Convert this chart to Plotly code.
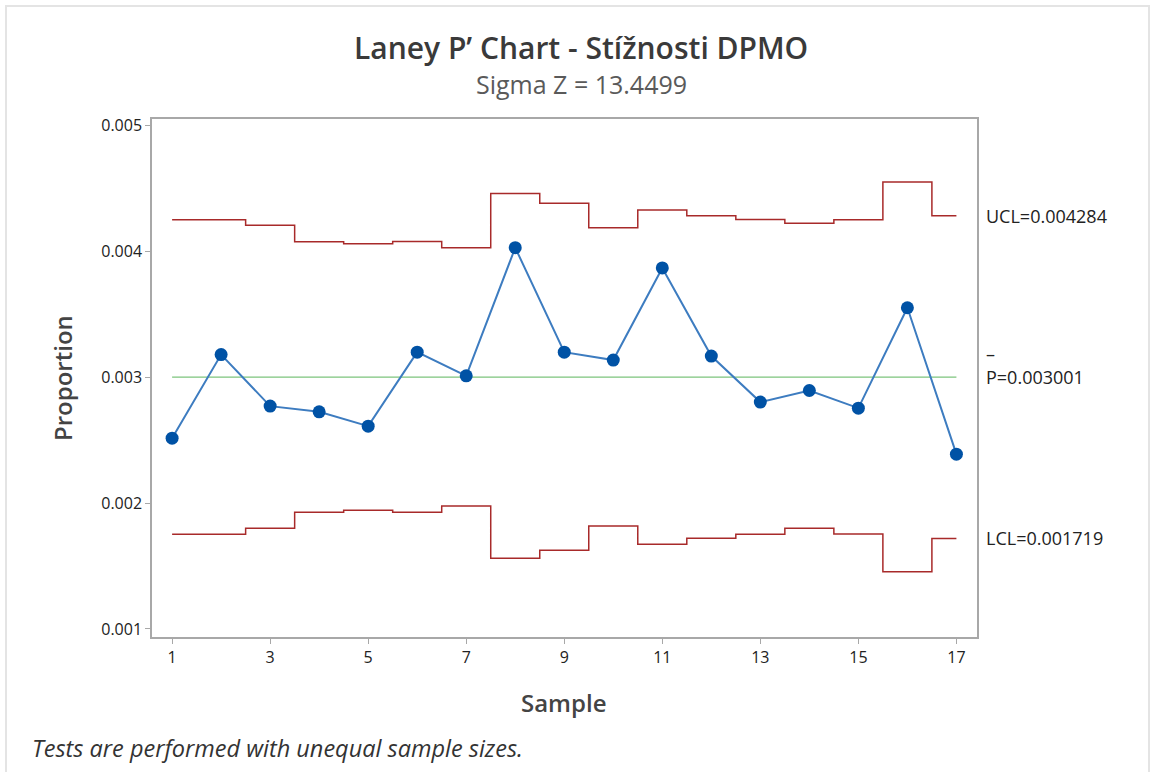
import plotly.graph_objects as go

samples = list(range(1, 18))
proportion = [0.002516, 0.003181, 0.002771, 0.002726, 0.002612, 0.003200, 0.003012, 0.004030,
              0.003200, 0.003137, 0.003869, 0.003169, 0.002803, 0.002895, 0.002755, 0.003553, 0.002389]
ucl = [0.004253, 0.004253, 0.004208, 0.004078, 0.004062, 0.004080, 0.004030, 0.004460,
       0.004383, 0.004189, 0.004330, 0.004285, 0.004255, 0.004224, 0.004253, 0.004553, 0.004284]
lcl = [0.001753, 0.001753, 0.001800, 0.001928, 0.001944, 0.001928, 0.001978, 0.001562,
       0.001625, 0.001819, 0.001673, 0.001721, 0.001753, 0.001800, 0.001755, 0.001455, 0.001719]
center = 0.003001
x_ticks = [1, 3, 5, 7, 9, 11, 13, 15, 17]
y_ticks = [0.001, 0.002, 0.003, 0.004, 0.005]

FONT = "Open Sans"
W, H = 1156, 772
L, R, T, B = 152, 977, 119, 637

def px(xp):
    return (xp - L) / (R - L)

def py(yp):
    return (B - yp) / (B - T)

fig = go.Figure()
red = "#a82a2a"
fig.add_trace(go.Scatter(x=samples, y=ucl, mode="lines", line=dict(color=red, width=1.5, shape="hvh"),
                         hoverinfo="skip", showlegend=False))
fig.add_trace(go.Scatter(x=samples, y=lcl, mode="lines", line=dict(color=red, width=1.5, shape="hvh"),
                         hoverinfo="skip", showlegend=False))
fig.add_trace(go.Scatter(x=[samples[0], samples[-1]], y=[center, center], mode="lines",
                         line=dict(color="#7cc47c", width=1.2), hoverinfo="skip", showlegend=False))
fig.add_trace(go.Scatter(x=samples, y=proportion, mode="lines+markers",
                         line=dict(color="#3d7cc0", width=2),
                         marker=dict(color="#0052a5", size=13, symbol="circle"),
                         showlegend=False))

axis_common = dict(showline=True, mirror=True, linecolor="#a8a8a8", linewidth=1.5,
                   showgrid=False, zeroline=False, ticks="outside", ticklen=5,
                   tickcolor="#a8a8a8", tickfont=dict(family=FONT, size=16, color="#222222"))

fig.update_xaxes(range=[0.59, 17.42], tickvals=x_ticks, ticktext=[str(v) for v in x_ticks], **axis_common)
fig.update_yaxes(range=[0.000936, 0.005053], tickvals=y_ticks, ticktext=[f"{v:.3f}" for v in y_ticks],
                 **axis_common)

ann = []
ann.append(dict(text="Laney P’ Chart - Stížnosti DPMO", x=px(581), y=py(47), xref="paper", yref="paper",
                showarrow=False, xanchor="center", yanchor="middle",
                font=dict(family=FONT, size=30, color="#3a3a3a", weight=600)))
ann.append(dict(text="Sigma Z = 13.4499", x=px(581), y=py(84), xref="paper", yref="paper",
                showarrow=False, xanchor="center", yanchor="middle",
                font=dict(family=FONT, size=25, color="#5a5a5a")))
ann.append(dict(text="Proportion", x=px(62), y=0.5, xref="paper", yref="paper", textangle=-90,
                showarrow=False, xanchor="center", yanchor="middle",
                font=dict(family=FONT, size=24, color="#444444", weight=600)))
ann.append(dict(text="Sample", x=px(563), y=py(702), xref="paper", yref="paper",
                showarrow=False, xanchor="center", yanchor="middle",
                font=dict(family=FONT, size=24, color="#444444", weight=600)))
ann.append(dict(text="<i>Tests are performed with unequal sample sizes.</i>", x=px(30), y=py(748),
                xref="paper", yref="paper", showarrow=False, xanchor="left", yanchor="middle",
                font=dict(family=FONT, size=23.5, color="#333333")))
lab_font = dict(family=FONT, size=18, color="#222222")
ann.append(dict(text=f"UCL={ucl[-1]:.6f}", x=px(984), y=ucl[-1], xref="paper", yref="y",
                showarrow=False, xanchor="left", yanchor="middle", font=lab_font))
ann.append(dict(text=f"P={center:.6f}", x=px(984), y=center, xref="paper", yref="y",
                showarrow=False, xanchor="left", yanchor="middle", font=lab_font))
ann.append(dict(text="–", x=px(984), y=center, yshift=23, xref="paper", yref="y",
                showarrow=False, xanchor="left", yanchor="middle", font=lab_font))
ann.append(dict(text=f"LCL={lcl[-1]:.6f}", x=px(984), y=lcl[-1], xref="paper", yref="y",
                showarrow=False, xanchor="left", yanchor="middle", font=lab_font))

fig.update_layout(
    width=W, height=H,
    margin=dict(l=L, r=W - R, t=T, b=H - B, autoexpand=False),
    paper_bgcolor="white", plot_bgcolor="white",
    annotations=ann,
    shapes=[dict(type="rect", xref="paper", yref="paper",
                 x0=px(6), x1=px(1149), y0=py(790), y1=py(6),
                 line=dict(color="#e4e4e4", width=2), layer="below")],
)

fig.write_html("out.html", config={"displayModeBar": False})
